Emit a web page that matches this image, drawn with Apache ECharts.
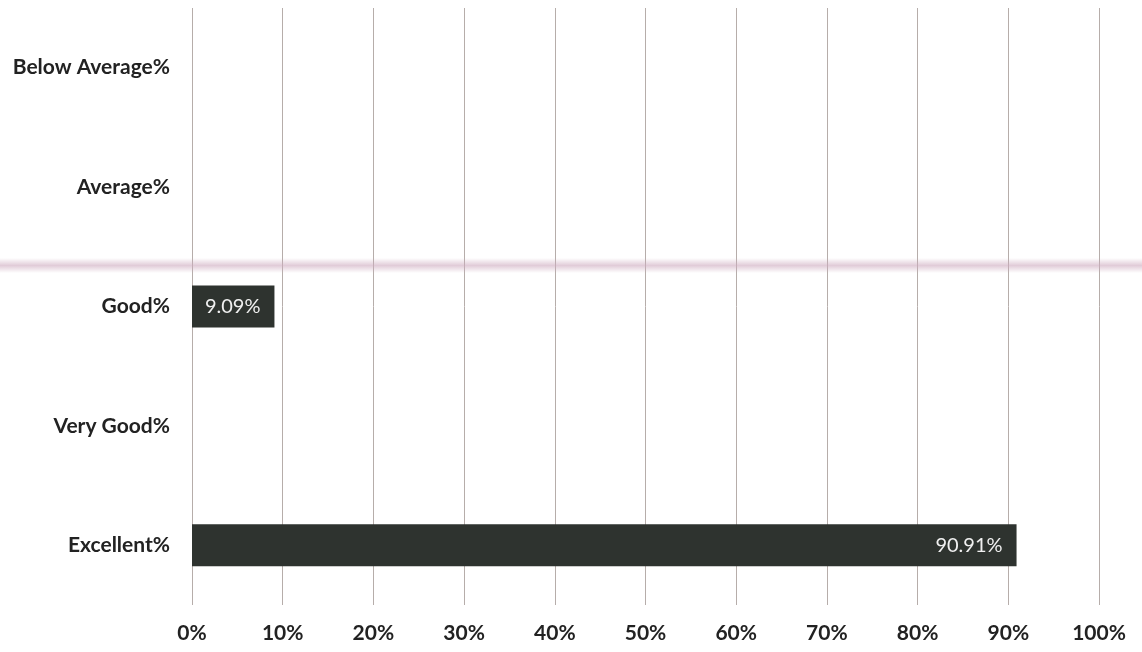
<!DOCTYPE html>
<html>
<head>
<meta charset="utf-8">
<script src="https://cdn.jsdelivr.net/npm/echarts@6/dist/echarts.min.js"></script>
<style>html,body{margin:0;padding:0;background:#fff;}#c{width:1142px;height:652px;}</style>
</head>
<body>
<div id="c"></div>
<script>
const categories = ['Excellent%', 'Very Good%', 'Good%', 'Average%', 'Below Average%'];
const values = [90.91, 0, 9.09, 0, 0];
const valueLabels = ['90.91%', '', '9.09%', '', ''];
const xTicks = [0, 10, 20, 30, 40, 50, 60, 70, 80, 90, 100];

const chart = echarts.init(document.getElementById('c'));
chart.setOption({
  backgroundColor: '#ffffff',
  animation: false,
  grid: { left: 192, right: 43, top: 8, bottom: 47, containLabel: false },
  xAxis: {
    type: 'value', min: 0, max: 100, interval: 10,
    axisLine: { show: false }, axisTick: { show: false },
    splitLine: { show: true, lineStyle: { color: '#b6adaa', width: 1 } },
    axisLabel: { formatter: v => xTicks.includes(v) ? v + '%' : '', color: '#222', fontFamily: 'Lato', fontWeight: 'bold', fontSize: 21, margin: 18 }
  },
  yAxis: {
    type: 'category', data: categories,
    axisLine: { show: false }, axisTick: { show: false },
    axisLabel: { color: '#222', fontFamily: 'Lato', fontWeight: 'bold', fontSize: 21, margin: 22 }
  },
  graphic: [{
    type: 'rect', silent: true, z: 100,
    shape: { x: 0, y: 258, width: 1142, height: 15 },
    style: { fill: new echarts.graphic.LinearGradient(0, 0, 0, 1, [
      { offset: 0, color: 'rgba(205,170,190,0)' },
      { offset: 0.5, color: 'rgba(205,170,190,0.6)' },
      { offset: 1, color: 'rgba(205,170,190,0)' }
    ]) }
  }],
  series: [{
    type: 'bar', data: values, barWidth: 42,
    itemStyle: { color: '#2e332f', borderWidth: 0 },
    label: {
      show: true, position: 'insideRight', distance: 14,
      formatter: p => valueLabels[p.dataIndex],
      color: '#f0f0f0', fontFamily: 'Lato', fontSize: 20
    }
  }]
});
</script>
</body>
</html>
